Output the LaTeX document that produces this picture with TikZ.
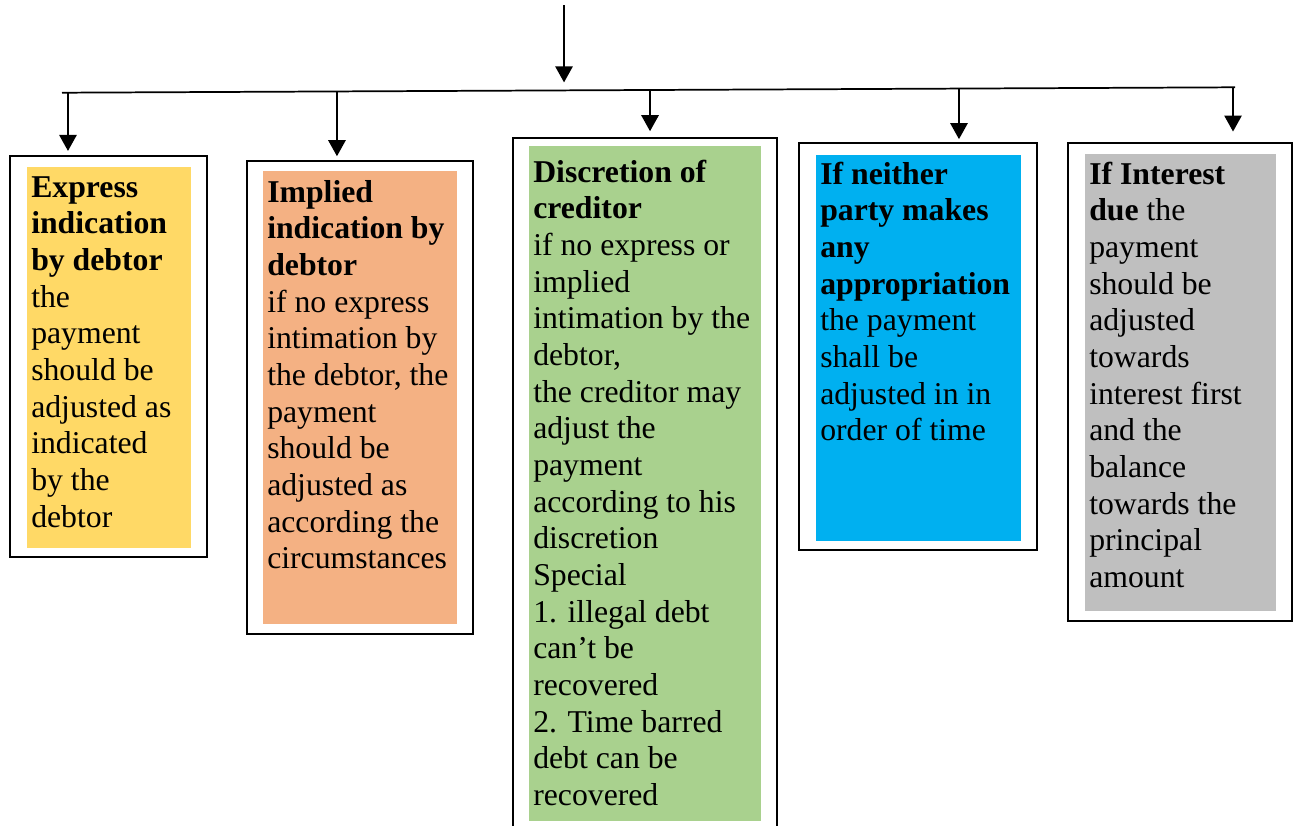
\documentclass[tikz,border=0pt]{standalone}
\usepackage{fontspec}
\setmainfont{Liberation Serif}
\usetikzlibrary{arrows.meta,calc,fit}

\definecolor{fillA}{HTML}{FFD966}
\definecolor{fillB}{HTML}{F4B183}
\definecolor{fillC}{HTML}{A9D18E}
\definecolor{fillD}{HTML}{00B0F0}
\definecolor{fillE}{HTML}{BFBFBF}

\tikzset{
  conn/.style={line width=1.3pt, line cap=butt},
  arr/.style={conn, -{Triangle[length=12pt,width=13pt]}},
  outerbox/.style={draw=black, line width=1.2pt, fill=white, inner sep=0pt},
  panel/.style={draw=none, inner sep=0pt},
  txt/.style={inner sep=0pt, anchor=base west, font=\fontsize{23.8pt}{27.5pt}\selectfont},
}

\newcommand{\boxtext}[1]{\parbox[t]{240pt}{\raggedright #1}}

\begin{document}
\begin{tikzpicture}[x=0.75pt,y=-0.75pt]
\useasboundingbox (0,0) rectangle (1296,825);

% trunk line and its ends
\coordinate (src) at (564,5);
\coordinate (hl) at (62,92.7);
\coordinate (hr) at (1235,87.3);
\coordinate (jtop) at ($(hl)!0.428!(hr)$);
\coordinate (j1) at ($(hl)!0.0051!(hr)$);
\coordinate (j2) at ($(hl)!0.2344!(hr)$);
\coordinate (j3) at ($(hl)!0.5013!(hr)$);
\coordinate (j4) at ($(hl)!0.7647!(hr)$);
\coordinate (j5) at ($(hl)!0.9983!(hr)$);

% outer frames
\node[outerbox, fit={(10,156) (207,557)}] (b1) {};
\node[outerbox, fit={(247,161) (473,634)}] (b2) {};
\node[outerbox, fit={(513,138) (777,840)}] (b3) {};
\node[outerbox, fit={(799,143) (1037,550)}] (b4) {};
\node[outerbox, fit={(1068,143) (1292,621)}] (b5) {};

% coloured panels
\node[panel, fill=fillA, fit={(27,167) (191,548)}] (p1) {};
\node[panel, fill=fillB, fit={(263,171) (457,624)}] (p2) {};
\node[panel, fill=fillC, fit={(529,146) (761,821)}] (p3) {};
\node[panel, fill=fillD, fit={(816,155) (1021,541)}] (p4) {};
\node[panel, fill=fillE, fit={(1085,154) (1276,611)}] (p5) {};

% texts
\node[txt] (t1) at (31,197) {\boxtext{\textbf{Express\\indication\\by debtor}\\the\\payment\\should be\\adjusted as\\indicated\\by the\\debtor}};
\node[txt] (t2) at (267,202) {\boxtext{\textbf{Implied\\indication by\\debtor}\\if no express\\intimation by\\the debtor, the\\payment\\should be\\adjusted as\\according the\\circumstances}};
\node[txt] (t3) at (533,182) {\boxtext{\textbf{Discretion of\\creditor}\\if no express or\\implied\\intimation by the\\debtor,\\the creditor may\\adjust the\\payment\\according to his\\discretion\\Special\\1. illegal debt\\can’t be\\recovered\\2. Time barred\\debt can be\\recovered}};
\node[txt] (t4) at (820,184) {\boxtext{\textbf{If neither\\party makes\\any\\appropriation}\\the payment\\shall be\\adjusted in in\\order of time}};
\node[txt] (t5) at (1089,184) {\boxtext{\textbf{If Interest\\due} the\\payment\\should be\\adjusted\\towards\\interest first\\and the\\balance\\towards the\\principal\\amount}};

% connectors
\draw[arr, shorten >=6pt] (src) -- (jtop);
\draw[conn] (hl) -- (hr);
\draw[arr, shorten >=3.2pt] (j1) -- (j1 |- b1.north);
\draw[arr, shorten >=3pt] (j2) -- (j2 |- b2.north);
\draw[arr, shorten >=4.5pt] (j3) -- (j3 |- b3.north);
\draw[arr, shorten >=2.3pt] (j4) -- (j4 |- b4.north);
\draw[arr, shorten >=8pt] (j5) -- (j5 |- b5.north);
\end{tikzpicture}
\end{document}
